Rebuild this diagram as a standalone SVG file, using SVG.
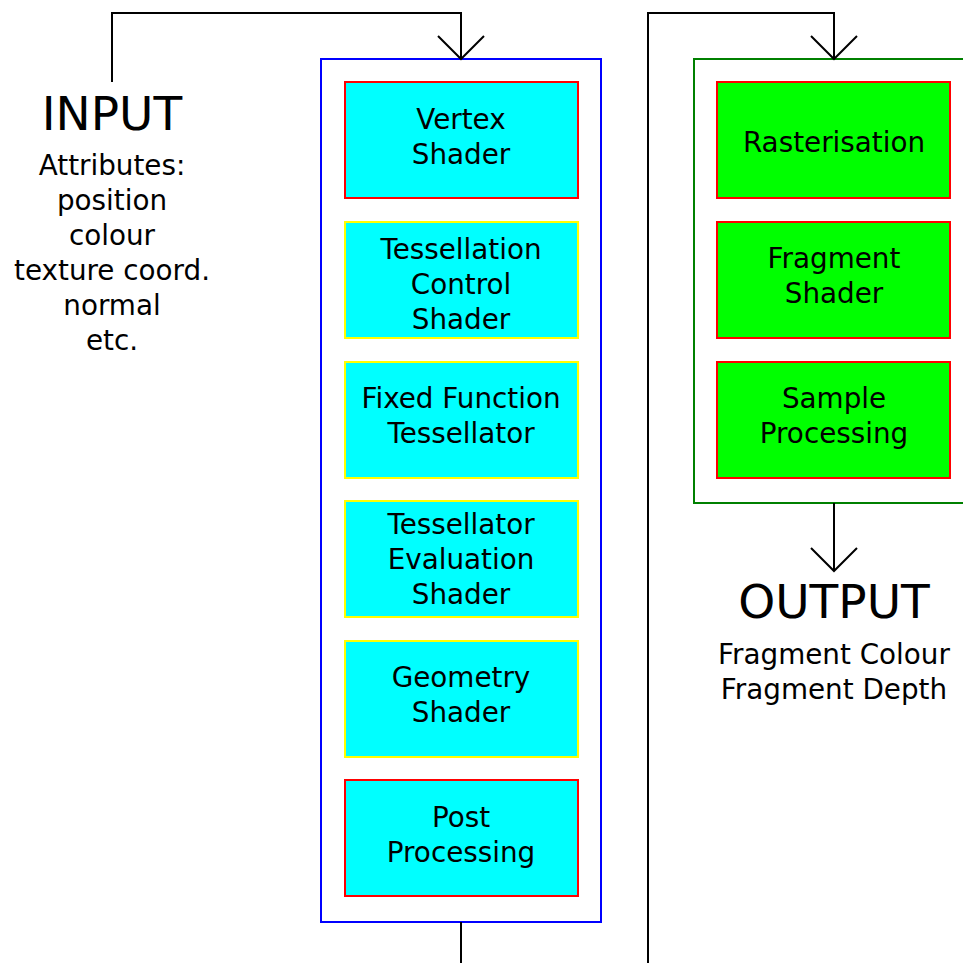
<svg xmlns="http://www.w3.org/2000/svg" width="963" height="963" viewBox="0 0 963 963">
<style>
text{font-family:"DejaVu Sans","Liberation Sans",sans-serif;fill:#000;text-anchor:middle}
.t{font-size:27.8px}
.big{font-size:47px}
.stage{stroke-width:2}
.cy{fill:#00ffff}
.gr{fill:#00ff00}
.rb{stroke:#ff0000}
.yb{stroke:#ffff00}
.conn{fill:none;stroke:#000;stroke-width:2}
</style>
<rect width="963" height="963" fill="#fff"/>
<g id="vertex-processing">
<rect x="321" y="59" width="280" height="863" fill="none" stroke="#0000ff" stroke-width="2"/>
</g>
<g id="fragment-processing">
<rect x="694" y="59" width="300" height="444" fill="none" stroke="#008000" stroke-width="2"/>
</g>
<g id="vertex-shader">
<rect class="stage cy rb" x="345" y="82" width="233" height="116"/>
<text class="t" x="461" y="129">Vertex</text>
<text class="t" x="461" y="164">Shader</text>
</g>
<g id="tess-control">
<rect class="stage cy yb" x="345" y="222" width="233" height="116"/>
<text class="t" x="461" y="259">Tessellation</text>
<text class="t" x="461" y="294">Control</text>
<text class="t" x="461" y="329">Shader</text>
</g>
<g id="tessellator">
<rect class="stage cy yb" x="345" y="362" width="233" height="116"/>
<text class="t" x="461" y="408">Fixed Function</text>
<text class="t" x="461" y="443">Tessellator</text>
</g>
<g id="tess-eval">
<rect class="stage cy yb" x="345" y="501" width="233" height="116"/>
<text class="t" x="461" y="534">Tessellator</text>
<text class="t" x="461" y="569">Evaluation</text>
<text class="t" x="461" y="604">Shader</text>
</g>
<g id="geometry-shader">
<rect class="stage cy yb" x="345" y="641" width="233" height="116"/>
<text class="t" x="461" y="687">Geometry</text>
<text class="t" x="461" y="722">Shader</text>
</g>
<g id="post-processing">
<rect class="stage cy rb" x="345" y="780" width="233" height="116"/>
<text class="t" x="461" y="827">Post</text>
<text class="t" x="461" y="862">Processing</text>
</g>
<g id="rasterisation">
<rect class="stage gr rb" x="717" y="82" width="233" height="116"/>
<text class="t" x="834" y="152">Rasterisation</text>
</g>
<g id="fragment-shader">
<rect class="stage gr rb" x="717" y="222" width="233" height="116"/>
<text class="t" x="834" y="268">Fragment</text>
<text class="t" x="834" y="303">Shader</text>
</g>
<g id="sample-processing">
<rect class="stage gr rb" x="717" y="362" width="233" height="116"/>
<text class="t" x="834" y="408">Sample</text>
<text class="t" x="834" y="443">Processing</text>
</g>
<g id="input">
<text class="big" x="112" y="130">INPUT</text>
<text class="t" x="112" y="175">Attributes:</text>
<text class="t" x="112" y="210">position</text>
<text class="t" x="112" y="245">colour</text>
<text class="t" x="112" y="280">texture coord.</text>
<text class="t" x="112" y="315">normal</text>
<text class="t" x="112" y="350">etc.</text>
</g>
<g id="output">
<text class="big" x="834" y="618">OUTPUT</text>
<text class="t" x="834" y="664">Fragment Colour</text>
<text class="t" x="834" y="699">Fragment Depth</text>
</g>
<g id="connectors">
<path class="conn" d="M112 82V13H461V59"/>
<path class="conn" d="M438 36L461 59L484 36"/>
<path class="conn" d="M461 922V963"/>
<path class="conn" d="M648 963V13H834V59"/>
<path class="conn" d="M811 36L834 59L857 36"/>
<path class="conn" d="M834 503V571"/>
<path class="conn" d="M811 548L834 571L857 548"/>
</g>
</svg>
